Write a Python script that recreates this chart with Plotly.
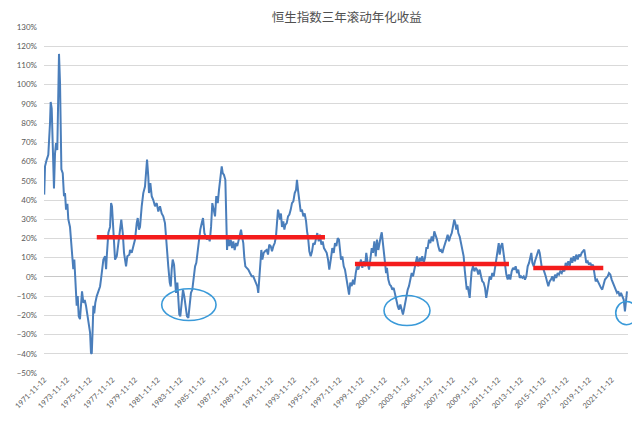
import pandas as pd
import plotly.graph_objects as go

# 恒生指数三年滚动年化收益 (%), x in decimal years
p1_years = [1971.86, 1971.93, 1972.08, 1972.22, 1972.37, 1972.43, 1972.52, 1972.61, 1972.66, 1972.72,
            1972.81, 1972.90, 1973.01, 1973.10, 1973.16, 1973.25, 1973.31, 1973.37, 1973.49, 1973.60,
            1973.69, 1973.78, 1973.90, 1973.98, 1974.13, 1974.28, 1974.42, 1974.51, 1974.64, 1974.72,
            1974.81, 1974.90, 1975.01, 1975.10, 1975.19, 1975.31, 1975.43, 1975.54, 1975.66, 1975.78,
            1975.90, 1975.98, 1976.05, 1976.13, 1976.19, 1976.27, 1976.36, 1976.49, 1976.63, 1976.78,
            1976.86, 1976.95, 1977.07, 1977.22, 1977.31, 1977.37, 1977.51, 1977.66, 1977.75, 1977.83,
            1977.95, 1978.10, 1978.25, 1978.39, 1978.54, 1978.65, 1978.78, 1978.89, 1979.07, 1979.18,
            1979.36]
p1_vals = [42.8, 57.5, 61, 63.5, 80, 91, 87.5, 73, 57.5, 46,
           64, 69.6, 66, 97, 116, 101, 80, 56, 54, 42,
           43.6, 35, 38, 30, 26, 16, 4, 9, -8, -15,
           -10, -20.5, -22, -13.5, -7.5, -13.5, -12, -15, -20.5, -24,
           -29, -39.5, -40, -27, -15, -19, -13.5, -10, -8, -5,
           -1.4, 2, 9, 10.7, 4, 10.7, 23, 26, 38.4, 36.7,
           21, 9, 10.7, 17.6, 24.6, 29.8, 22.8, 12.5, 5.5, 10.7,
           11.5]

p2_years = [1979.42, 1979.57, 1979.71, 1979.86, 1980.01, 1980.10, 1980.21, 1980.30, 1980.45, 1980.59,
            1980.74, 1980.83, 1980.92, 1981.03, 1981.09, 1981.21, 1981.33, 1981.47, 1981.62, 1981.77,
            1981.91, 1982.06, 1982.21, 1982.35, 1982.50, 1982.59, 1982.71, 1982.79, 1982.92, 1983.01,
            1983.09, 1983.18, 1983.30, 1983.38, 1983.47, 1983.59, 1983.68, 1983.76, 1983.85, 1983.97,
            1984.09, 1984.20, 1984.33, 1984.44, 1984.56, 1984.68, 1984.79, 1984.91, 1985.03, 1985.15,
            1985.26, 1985.38, 1985.50, 1985.61, 1985.74, 1985.85, 1985.97, 1986.09, 1986.20, 1986.32,
            1986.44, 1986.56, 1986.67, 1986.79, 1986.91, 1987.02, 1987.15, 1987.26, 1987.38, 1987.50,
            1987.59, 1987.70]
p2_vals = [14, 12.5, 16, 19.4, 28, 30.6, 24.6, 26, 36.7, 43.6,
           47, 54, 61, 52, 43.6, 48.8, 42, 40, 36.7, 38.4,
           34, 36.7, 33, 31.5, 28, 21, 14, 5.5, -3, -5,
           3.8, 9, 6.4, -2, -8.3, -3, -10, -19.6, -20.5, -11.8,
           -6.6, -10, -15, -20.5, -21.3, -15, -8.3, -6.6, 0.3, 5.5,
           7.3, 14, 17.6, 24.6, 28, 30.6, 22.8, 21, 19.4, 21,
           18.5, 26, 38.4, 35, 31.5, 42, 38.4, 45.3, 50.5, 57.5,
           54, 53]

p3_years = [1987.82, 1987.90, 1987.97, 1988.05, 1988.17, 1988.29, 1988.41, 1988.52, 1988.64, 1988.76,
            1988.87, 1989.00, 1989.11, 1989.20, 1989.29, 1989.40, 1989.49, 1989.58, 1989.70, 1989.84,
            1989.99, 1990.14, 1990.28, 1990.41, 1990.52, 1990.64, 1990.72, 1990.81, 1990.90, 1990.99,
            1991.08, 1991.20, 1991.31, 1991.46, 1991.58, 1991.69, 1991.82, 1991.93, 1992.05, 1992.17,
            1992.28, 1992.37, 1992.46, 1992.55, 1992.64, 1992.72, 1992.81, 1992.93, 1993.02, 1993.10,
            1993.23, 1993.34, 1993.46, 1993.58, 1993.69, 1993.81, 1993.93, 1994.05, 1994.13, 1994.22,
            1994.34, 1994.46, 1994.57, 1994.69, 1994.81, 1994.93, 1995.02, 1995.10, 1995.22, 1995.34,
            1995.46, 1995.57, 1995.69, 1995.81, 1995.92, 1996.05, 1996.16, 1996.28, 1996.40, 1996.51,
            1996.63, 1996.75, 1996.87, 1996.98]
p3_vals = [50.5, 33, 14, 21, 16, 19.4, 15, 18.5, 14, 17.6,
           16, 19.4, 22, 24.6, 21, 17.6, 10, 5.5, 4.7, 3.8,
           2, 0.3, 0.3, -1.4, -3, -5, -8.3, 0.3, 10.7, 14,
           9, 12.5, 13.3, 14, 11.6, 16.8, 16, 13.3, 16, 17.6,
           21, 31.5, 35, 32.4, 29.8, 33, 26, 28.9, 24.6, 27,
           28, 31.5, 32.4, 35, 38.4, 39.3, 43.6, 45.3, 50.5, 45.3,
           38.4, 34, 35, 31.5, 33, 29, 23.7, 21, 13.3, 10.7,
           13.3, 17.6, 16.8, 21, 22.8, 18.5, 22, 16.8, 18.5, 15,
           14, 12.5, 9, 3.8]

p4_years = [1997.13, 1997.24, 1997.37, 1997.48, 1997.60, 1997.72, 1997.83, 1997.92, 1998.01, 1998.13,
            1998.25, 1998.36, 1998.48, 1998.60, 1998.72, 1998.83, 1998.95, 1999.07, 1999.18, 1999.31,
            1999.42, 1999.54, 1999.66, 1999.77, 1999.89, 2000.01, 2000.13, 2000.24, 2000.36, 2000.48,
            2000.59, 2000.72, 2000.83, 2000.95, 2001.07, 2001.18, 2001.30, 2001.42, 2001.51, 2001.60,
            2001.68, 2001.77, 2001.89, 2001.98, 2002.06, 2002.18, 2002.30, 2002.42, 2002.53, 2002.65,
            2002.77, 2002.88, 2003.01, 2003.12, 2003.24, 2003.36, 2003.47, 2003.56, 2003.65, 2003.76,
            2003.89, 2004.00, 2004.12, 2004.24, 2004.36, 2004.47, 2004.59, 2004.71, 2004.82, 2004.95,
            2005.06, 2005.17, 2005.30, 2005.41]
p4_vals = [9.9, 15, 12.5, 17.6, 16, 20.2, 19.4, 15, 9, 10.7,
           5.5, 3.8, -1.4, -4.8, -9.2, -3, -4.8, -1.4, -4, 2,
           5.5, 3.8, 7.3, 9, 4.7, 8.1, 5.5, 12.5, 7.3, 3.8,
           9, 15, 12.5, 18.5, 10.7, 19.4, 14, 19.4, 21, 23.2,
           19.4, 14, 7.3, 2, 4.7, -1.4, -4, -4.8, -6.6, -5.7,
           -8.3, -11.8, -15.2, -17, -14.4, -17.8, -19.6, -17, -13.5, -10,
           -6.6, -4.8, -1.4, 2, 0.3, 3.8, 8.1, 10.7, 5.5, 9.9,
           8.1, 10.7, 7.3, 9.9]

p5_years = [2005.53, 2005.65, 2005.76, 2005.88, 2006.00, 2006.12, 2006.23, 2006.36, 2006.47, 2006.58,
            2006.71, 2006.82, 2006.94, 2007.06, 2007.17, 2007.29, 2007.41, 2007.53, 2007.64, 2007.77,
            2007.88, 2007.99, 2008.08, 2008.17, 2008.26, 2008.35, 2008.47, 2008.58, 2008.70, 2008.82,
            2008.91, 2009.00, 2009.09, 2009.17, 2009.26, 2009.35, 2009.44, 2009.52, 2009.64, 2009.76,
            2009.88, 2009.99, 2010.11, 2010.23, 2010.35, 2010.46, 2010.58, 2010.70, 2010.81, 2010.90,
            2010.99, 2011.11, 2011.23, 2011.34, 2011.47, 2011.58, 2011.69, 2011.82, 2011.91, 2011.99,
            2012.11, 2012.22, 2012.35, 2012.46, 2012.58, 2012.70, 2012.81, 2012.93, 2013.05, 2013.17,
            2013.28, 2013.40, 2013.52, 2013.63, 2013.76, 2013.87, 2013.99, 2014.11, 2014.22]
p5_vals = [15, 15, 19.4, 17.6, 21, 18.5, 23.7, 21.9, 19.4, 16,
           13.3, 14, 12.5, 15, 16.8, 19.4, 21.9, 18.5, 21, 22.8,
           26.3, 29.8, 28, 24.6, 27.2, 22.8, 21, 17.6, 14, 10.7,
           3.8, -1.4, -6.6, -4.8, -8.3, -10.9, -3, 2.9, 5.5, 2.9,
           4.7, 3.8, 1.2, 3.8, 0.3, -2.3, -3, -5.7, -10.9, -6.6,
           -2.3, 0.3, -1.4, 2, 0.3, 4.7, 7.3, 12.5, 17.6, 11.6,
           16, 17.6, 11.6, 5.5, 1.2, -1.4, 1.2, -1.4, 2.9, 4.7,
           3.8, 5.5, 2, 3.8, -0.5, 0.3, -0.5, 0.3, -1.4]

p6_years = [2014.34, 2014.46, 2014.58, 2014.69, 2014.78, 2014.87, 2014.99, 2015.10, 2015.22, 2015.34,
            2015.43, 2015.52, 2015.61, 2015.69, 2015.81, 2015.92, 2016.05, 2016.16, 2016.28, 2016.40,
            2016.51, 2016.63, 2016.75, 2016.87, 2016.98, 2017.10, 2017.22, 2017.33, 2017.46, 2017.57,
            2017.69, 2017.81, 2017.92, 2018.04, 2018.16, 2018.28, 2018.39, 2018.51, 2018.63, 2018.74,
            2018.87, 2018.98, 2019.10, 2019.22, 2019.33, 2019.45, 2019.54, 2019.62, 2019.75, 2019.86,
            2019.98, 2020.10, 2020.22, 2020.33, 2020.45, 2020.57, 2020.69, 2020.81, 2020.92, 2021.03,
            2021.16, 2021.27, 2021.39, 2021.51, 2021.62, 2021.74, 2021.86, 2021.98, 2022.09, 2022.22,
            2022.33, 2022.44, 2022.57, 2022.68, 2022.80, 2022.92, 2023.03, 2023.10, 2023.15, 2023.21]
p6_vals = [0.3, 5.5, 7.3, 10.7, 12.5, 7.3, 5.5, 8.1, 10.7, 12.5,
           14.2, 12.5, 9, 5.5, 4.7, 2.9, 0.3, -2.3, -4.8, -2.3,
           -1.4, 0.3, -2.3, 1.2, -0.5, 2, 1.2, 2.9, 2, 3.8,
           2.9, 7.3, 5.5, 8.1, 5.5, 9.9, 7.3, 10.7, 8.1, 11.6,
           9, 11.6, 10.7, 12.5, 13.3, 14.2, 10.7, 7.3, 8.1, 6.4,
           7.3, 5.5, 6.4, 2, -2.3, -1.4, -3, -4, -5.7, -6.6,
           -3, -1.4, -0.5, 0.3, 2, 1.2, -1.4, -3, -4.8, -6.6,
           -8.3, -7.5, -10, -8.3, -10, -11.8, -18, -12.6, -10, -7.5]

# red average bars
avg_start = [1976.49, 1999.24, 2014.95]
avg_end = [1996.60, 2012.81, 2021.12]
avg_level = [20.6, 6.7, 4.65]

# blue circles (decimal year, %)
circle_x0 = [1982.21, 2001.80]
circle_x1 = [1987.00, 2005.85]
circle_y0 = [-22.7, -25.3]
circle_y1 = [-6.2, -9.7]


# decimal year -> timestamp
def to_date(y):
    year = int(y)
    return pd.Timestamp(year=year, month=1, day=1) + pd.Timedelta(days=(y - year) * 365.25)


years = p1_years + p2_years + p3_years + p4_years + p5_years + p6_years
vals = p1_vals + p2_vals + p3_vals + p4_vals + p5_vals + p6_vals
assert len(years) == len(vals)
df = pd.DataFrame({"date": [to_date(y) for y in years], "ret": vals})

grey = "#595959"
fig = go.Figure()
fig.add_trace(
    go.Scatter(x=df["date"], y=df["ret"], mode="lines",
               line=dict(color="#4a7ebb", width=2), showlegend=False)
)
for s, e, lv in zip(avg_start, avg_end, avg_level):
    fig.add_trace(
        go.Scatter(x=[to_date(s), to_date(e)], y=[lv, lv], mode="lines",
                   line=dict(color="#f41c1c", width=4.5), showlegend=False)
    )

for x0, x1, y0, y1 in zip(circle_x0, circle_x1, circle_y0, circle_y1):
    fig.add_shape(type="circle", xref="x", yref="y",
                  x0=to_date(x0), x1=to_date(x1), y0=y0, y1=y1,
                  line=dict(color="#3a9ad9", width=1.6))
# last circle pokes past the plot edge, so place it on paper
fig.add_shape(type="circle", xref="paper", yref="paper",
              x0=0.979, x1=1.016, y0=0.1395, y1=0.2068,
              line=dict(color="#3a9ad9", width=1.6))

# page body has an 8px margin, so the figure is sized to fit inside it
fig.update_layout(
    width=632,
    height=413,
    margin=dict(l=36, r=12, t=19, b=48),
    paper_bgcolor="white",
    plot_bgcolor="white",
    title=dict(text="恒生指数三年滚动年化收益", x=0.536, xanchor="center",
               y=0.977, yanchor="middle",
               font=dict(family="Noto Sans CJK SC", size=12.5, color="#505050")),
    font=dict(family="Lato, Open Sans, sans-serif", size=8, color=grey),
    hovermode=False,
)
fig.update_xaxes(
    type="date",
    range=[to_date(1971.84), to_date(2023.30)],
    tick0="1971-11-12",
    dtick="M24",
    tickformat="%Y-%m-%d",
    tickangle=-45,
    showgrid=False,
    zeroline=False,
    showline=False,
    ticks="",
    automargin=False,
    tickfont=dict(size=7.5, color=grey),
)
fig.update_yaxes(
    range=[-50, 130],
    dtick=10,
    ticksuffix="%",
    showgrid=True,
    gridcolor="#d9d9d9",
    gridwidth=1,
    zeroline=True,
    zerolinecolor="#c8c8c8",
    zerolinewidth=1,
    showline=False,
    ticks="",
    ticklabelstandoff=6,
    automargin=False,
    tickfont=dict(size=8, color=grey),
)

fig.write_html("out.html")
